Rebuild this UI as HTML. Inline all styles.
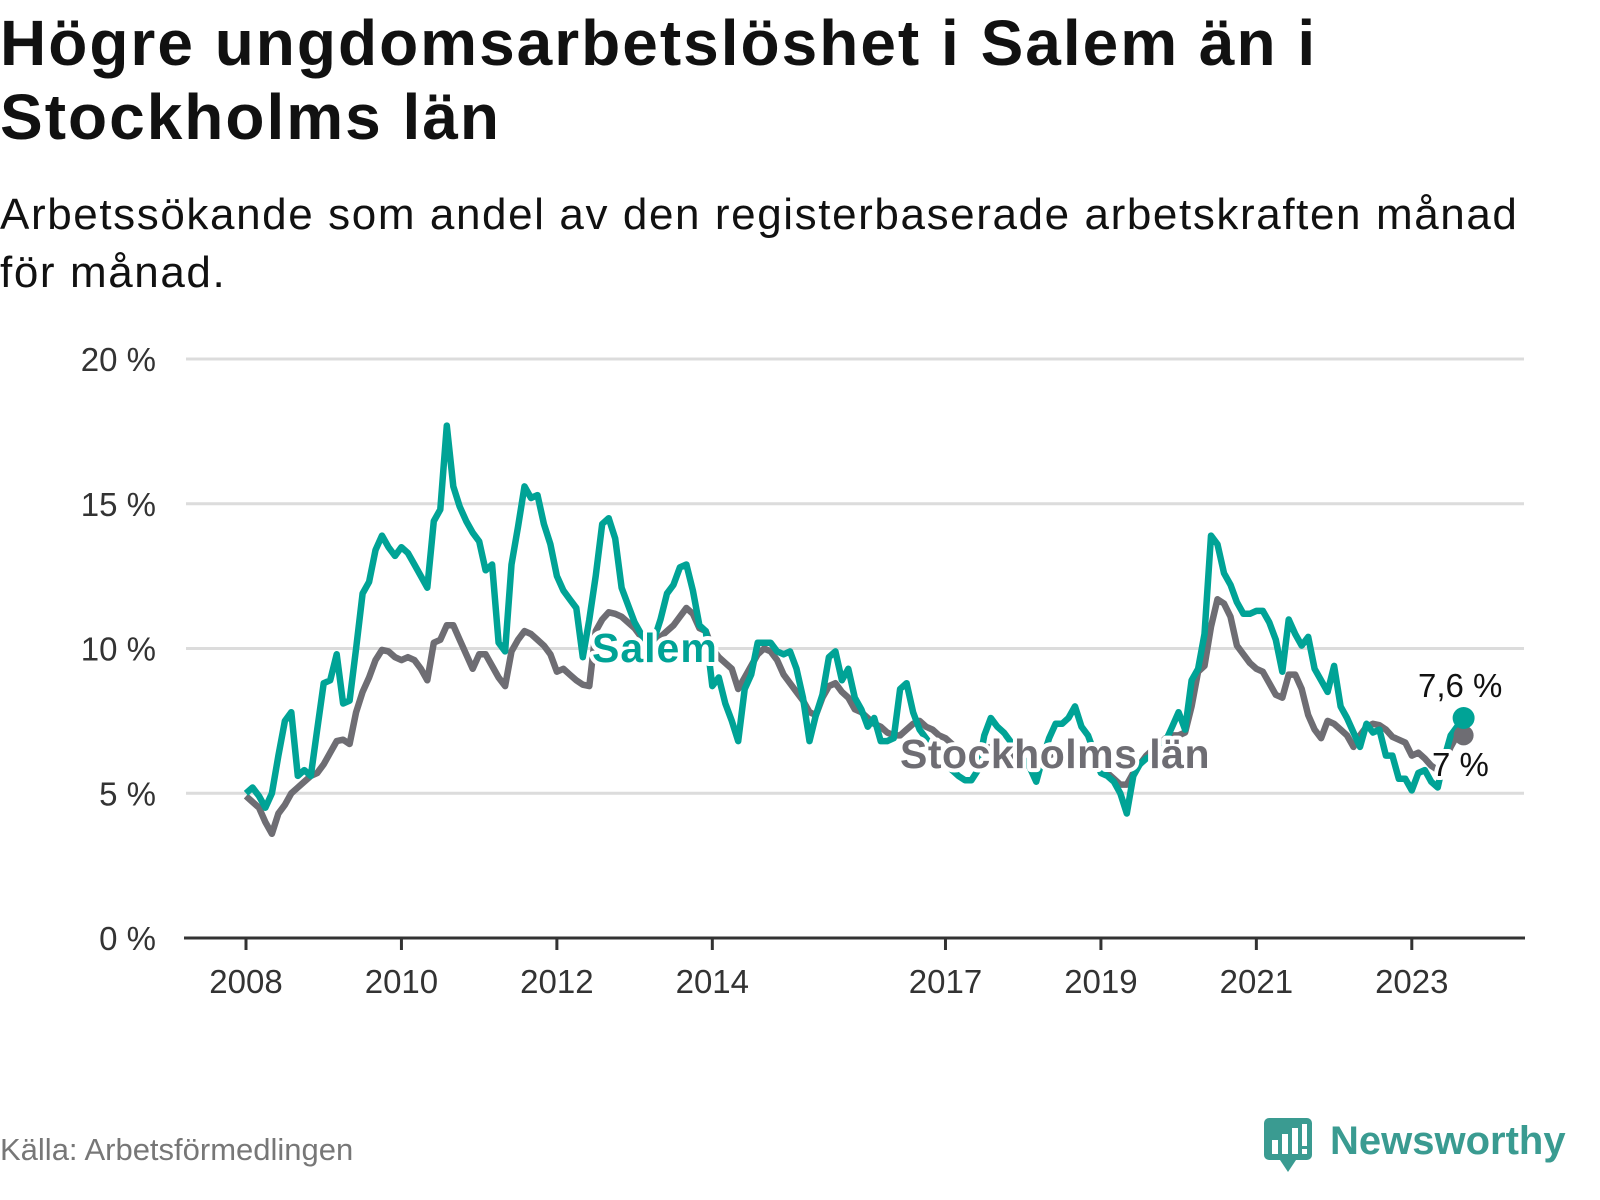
<!DOCTYPE html>
<html><head><meta charset="utf-8">
<style>
body{margin:0;background:#fff;width:1600px;height:1200px;overflow:hidden;font-family:"Liberation Sans",sans-serif;}
#title{position:absolute;left:0;top:6px;font-size:64px;font-weight:bold;line-height:74px;color:#111;letter-spacing:2px;white-space:nowrap;}
#sub{position:absolute;left:0;top:186px;font-size:44px;line-height:58px;color:#111;letter-spacing:1.6px;white-space:nowrap;}
#src{position:absolute;left:0;top:1132px;font-size:31px;color:#777;}
#logo{position:absolute;left:1262px;top:1112px;}
</style></head><body>
<div id="title">Högre ungdomsarbetslöshet i Salem än i<br>Stockholms län</div>
<div id="sub">Arbetssökande som andel av den registerbaserade arbetskraften månad<br>för månad.</div>
<svg id="chart" width="1600" height="1200" style="position:absolute;left:0;top:0"></svg>
<div id="src">Källa: Arbetsförmedlingen</div>
<div id="logo">
<svg width="320" height="66">
<rect x="2" y="6" width="48" height="42" rx="5" fill="#3a9b91"/>
<polygon points="18,48 34,48 26,60" fill="#3a9b91"/>
<rect x="10" y="28" width="6" height="14" fill="#fff"/><rect x="20" y="22" width="6" height="20" fill="#fff"/><rect x="30" y="16" width="6" height="26" fill="#fff"/><rect x="40" y="12" width="5" height="22" fill="#fff"/><rect x="40" y="37" width="5" height="5" fill="#fff"/>
<text x="68" y="42" font-family="Liberation Sans, sans-serif" font-weight="bold" font-size="40" fill="#3a9b91">Newsworthy</text>
</svg></div>
<script>
const years=[2008,2010,2012,2014,2017,2019,2021,2023];
const yTicks=[0,5,10,15,20];
const startYear=2008;
const salem=[5.0,5.2,4.9,4.5,5.0,6.3,7.5,7.8,5.6,5.8,5.6,7.2,
8.8,8.9,9.8,8.1,8.2,10.0,11.9,12.3,13.4,13.9,13.5,13.2,
13.5,13.3,12.9,12.5,12.1,14.4,14.8,17.7,15.6,14.9,14.4,14.0,
13.7,12.7,12.9,10.2,9.9,12.9,14.2,15.6,15.2,15.3,14.3,13.6,
12.5,12.0,11.7,11.4,9.7,11.0,12.5,14.3,14.5,13.8,12.1,11.5,
10.9,10.5,10.2,10.3,11.0,11.9,12.2,12.8,12.9,12.0,10.8,10.6,
8.7,9.0,8.1,7.5,6.8,8.6,9.1,10.2,10.2,10.2,9.9,9.8,
9.9,9.3,8.3,6.8,7.7,8.4,9.7,9.9,8.9,9.3,8.3,7.9,
7.3,7.6,6.8,6.8,6.9,8.6,8.8,7.8,7.2,6.9,6.6,6.3,
6.0,5.8,5.6,5.45,5.45,5.8,7.0,7.6,7.3,7.1,6.8,6.5,
6.2,5.9,5.4,6.2,6.9,7.4,7.4,7.6,8.0,7.3,7.0,6.4,
5.7,5.6,5.4,5.0,4.3,5.6,6.0,6.2,6.3,6.5,6.8,7.3,
7.8,7.2,8.9,9.3,10.5,13.9,13.6,12.6,12.2,11.6,11.2,11.2,
11.3,11.3,10.9,10.3,9.2,11.0,10.5,10.1,10.4,9.3,8.9,8.5,
9.4,8.0,7.6,7.1,6.6,7.4,7.1,7.2,6.3,6.3,5.5,5.5,
5.1,5.7,5.8,5.4,5.2,6.2,7.0,7.3,7.6];
const stockholm=[4.9,4.7,4.5,4.0,3.6,4.3,4.6,5.0,5.2,5.4,5.6,5.7,
6.0,6.4,6.8,6.85,6.7,7.8,8.5,9.0,9.6,9.95,9.9,9.7,
9.6,9.7,9.6,9.3,8.9,10.2,10.3,10.8,10.8,10.3,9.8,9.3,
9.8,9.8,9.4,9.0,8.7,9.9,10.3,10.6,10.5,10.3,10.1,9.8,
9.2,9.3,9.1,8.9,8.75,8.7,10.6,11.0,11.25,11.2,11.1,10.9,
10.7,10.4,10.2,10.2,10.4,10.6,10.8,11.1,11.4,11.2,10.7,10.6,
10.0,9.7,9.5,9.3,8.6,9.0,9.4,9.8,10.0,9.9,9.6,9.1,
8.8,8.5,8.2,7.8,7.7,8.3,8.7,8.8,8.5,8.3,7.9,7.8,
7.6,7.4,7.3,7.1,7.0,7.0,7.2,7.4,7.5,7.3,7.2,7.0,
6.9,6.7,6.5,6.3,6.2,6.3,6.5,6.6,6.5,6.4,6.3,6.2,
6.1,6.0,6.0,6.1,6.3,6.4,6.4,6.3,6.2,6.1,6.0,5.9,
5.8,5.7,5.5,5.3,5.3,5.7,6.0,6.3,6.5,6.7,6.9,7.0,
7.0,7.1,8.0,9.2,9.4,10.75,11.7,11.55,11.1,10.1,9.8,9.5,
9.3,9.2,8.8,8.4,8.3,9.1,9.1,8.6,7.7,7.2,6.9,7.5,
7.4,7.2,7.0,6.6,7.0,7.3,7.4,7.35,7.2,6.95,6.85,6.75,
6.3,6.4,6.2,5.95,5.8,6.1,6.6,7.0,7.0];

const NS="http://www.w3.org/2000/svg";
const svg=document.getElementById('chart');
const X0=246, PX_PER_YEAR=77.72, Y0=938, PX_PER_PCT=28.95;
function xMonth(i){return X0+PX_PER_YEAR*i/12;}
function xYear(y){return X0+PX_PER_YEAR*(y-startYear);}
function yVal(v){return Y0-PX_PER_PCT*v;}
function mk(tag,attrs){const e=document.createElementNS(NS,tag);for(const k in attrs)e.setAttribute(k,attrs[k]);svg.appendChild(e);return e;}

yTicks.forEach(t=>{
  if(t>0){const g=mk('line',{x1:186,x2:1524,y1:yVal(t),y2:yVal(t),stroke:'#dcdcdc','stroke-width':3});
  
  }
  const l=mk('text',{x:156,y:yVal(t)+12,'text-anchor':'end','font-size':33,fill:'#333','font-family':'Liberation Sans, sans-serif'});
  l.textContent=t+' %';
  
  
});
const ax=mk('line',{x1:184,x2:1525,y1:Y0,y2:Y0,stroke:'#333','stroke-width':3});


years.forEach(y=>{
  const tk=mk('line',{x1:xYear(y),x2:xYear(y),y1:Y0,y2:Y0+12,stroke:'#333','stroke-width':3});
  
  
  const l=mk('text',{x:xYear(y),y:Y0+55,'text-anchor':'middle','font-size':33,fill:'#333','font-family':'Liberation Sans, sans-serif'});
  l.textContent=y;
  
  
});
function pathOf(arr){return arr.map((v,i)=>(i?'L':'M')+xMonth(i).toFixed(1)+','+yVal(v).toFixed(1)).join('');}
const ps=mk('path',{d:pathOf(stockholm),fill:'none',stroke:'#6e6d73','stroke-width':6.5,'stroke-linejoin':'round'});


const pl=mk('path',{d:pathOf(salem),fill:'none',stroke:'#00a396','stroke-width':6.5,'stroke-linejoin':'round'});


const ls=stockholm.length-1, ll=salem.length-1;
const d1=mk('circle',{cx:xMonth(ls),cy:yVal(stockholm[ls]),r:10,fill:'#6e6d73'});


const d2=mk('circle',{cx:xMonth(ll),cy:yVal(salem[ll]),r:11,fill:'#00a396'});


function label(txt,x,y,opts){
  const t=mk('text',Object.assign({x:x,y:y,'font-family':'Liberation Sans, sans-serif',stroke:'#fff','stroke-width':8,'paint-order':'stroke','stroke-linejoin':'round'},opts));
  t.textContent=txt;
  return t;
}
const a=label('Salem',592,662,{'font-size':41,'font-weight':'bold',fill:'#00a396','letter-spacing':1});


const b=label('Stockholms län',900,768,{'font-size':41,'font-weight':'bold',fill:'#6e6d73','letter-spacing':0.5});


const c=label('7,6 %',1418,697,{'font-size':33,fill:'#111'});


const e=label('7 %',1432,776,{'font-size':33,fill:'#111'});


</script>
</body></html>
